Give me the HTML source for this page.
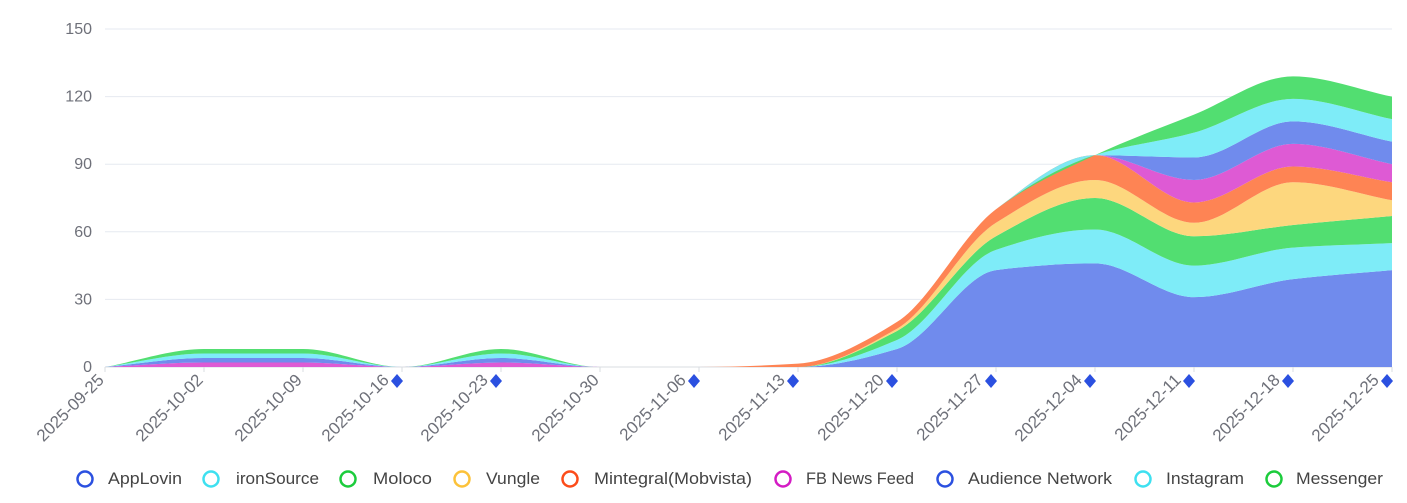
<!DOCTYPE html>
<html><head><meta charset="utf-8"><style>
body{margin:0;background:#fff;font-family:"Liberation Sans",sans-serif;}
svg text{font-family:"Liberation Sans",sans-serif;}
</style></head><body>
<svg id="c" width="1407" height="498" xmlns="http://www.w3.org/2000/svg"></svg>
<script>
const svg=document.getElementById('c');
const NS='http://www.w3.org/2000/svg';
function el(t,a,txt){const e=document.createElementNS(NS,t);for(const k in a)e.setAttribute(k,a[k]);if(txt!==undefined)e.textContent=txt;svg.appendChild(e);return e;}
const x0=105,dx=99,y0=367,k=338/150;
for(let v=0;v<=150;v+=30){const y=y0-v*k;el('line',{x1:105,x2:1392,y1:y,y2:y,stroke:v?'#e6eaf0':'#d8dce2','stroke-width':1});
el('text',{x:92,y:y+5,'text-anchor':'end','font-size':16,fill:'#6e7079'},String(v));}
const names=['AppLovin','ironSource','Moloco','Vungle','Mintegral(Mobvista)','FB News Feed','Audience Network','Instagram','Messenger'];
const fills=['#6b87ec','#7aebf8','#4cdd6c','#fdd67a','#fe804e','#dd55d3','#6b87ec','#7aebf8','#4cdd6c'];
const strokes=['#2b50e0','#3ee0f0','#1ccc3c','#fcc23a','#fc4c1a','#d41cc4','#2b50e0','#3ee0f0','#1ccc3c'];
const z=[0,0,0,0,0,0,0,0,0,0,0,0,0,0];
const data=[
[0,0,0,0,0,0,0,0,8,43,46,31,39,43],
[0,0,0,0,0,0,0,0,4,9,15,14,14,12],
[0,0,0,0,0,0,0,0,4,6,14,13,10,12],
[0,0,0,0,0,0,0,0,1,6,8,6,19,7],
[0,0,0,0,0,0,0,1.5,3,6,11,9,7,8],
[0,2,2,0,2,0,0,0,0,0,0,10,10,8],
[0,2,2,0,2,0,0,0,0,0,0,10,10,10],
[0,2,2,0,2,0,0,0,0,0,0,11,10,10],
[0,2,2,0,2,0,0,0,0,0,0,8,10,10]];
function mono(xs,ys){const n=xs.length,m=[],d=[];
for(let i=0;i<n-1;i++)d.push((ys[i+1]-ys[i])/(xs[i+1]-xs[i]));
for(let i=0;i<n;i++){if(i==0)m.push(d[0]);else if(i==n-1)m.push(d[n-2]);else{if(d[i-1]*d[i]<=0)m.push(0);else m.push(2/(1/d[i-1]+1/d[i]));}}
let p='';for(let i=0;i<n-1;i++){const h=xs[i+1]-xs[i];
p+=` C${xs[i]+h/3},${ys[i]+m[i]*h/3} ${xs[i+1]-h/3},${ys[i+1]-m[i+1]*h/3} ${xs[i+1]},${ys[i+1]}`;}return p;}
const xs=z.map((_,i)=>x0+i*dx);
let cum=z.slice();
for(let s=0;s<9;s++){const low=cum.slice();const high=cum.map((c,i)=>c+data[s][i]);cum=high;
const yl=low.map(v=>y0-v*k),yh=high.map(v=>y0-v*k);
let p=`M${xs[0]},${yh[0]}`+mono(xs,yh);
const rx=xs.slice().reverse(),ry=yl.slice().reverse();
p+=` L${rx[0]},${ry[0]}`+mono(rx.map(v=>-v),ry).replace(/C([^ ]+) ([^ ]+) ([^ ]+)/g,(a,b,c,d)=>{const f=s=>{const [x,y]=s.split(',');return (-x)+','+y};return 'C'+f(b)+' '+f(c)+' '+f(d);})+'Z';
el('path',{d:p,fill:fills[s],'fill-opacity':0.97,stroke:'none'});}
const labels=['2025-09-25','2025-10-02','2025-10-09','2025-10-16','2025-10-23','2025-10-30','2025-11-06','2025-11-13','2025-11-20','2025-11-27','2025-12-04','2025-12-11','2025-12-18','2025-12-25'];
const dia=[3,4,6,7,8,9,10,11,12,13];
labels.forEach((l,i)=>{const x=xs[i];
el('line',{x1:x,x2:x,y1:y0,y2:y0+5,stroke:'#d8dce2'});
const off=dia.includes(i)?-12:0;
el('text',{x:x+off,y:y0+14,'text-anchor':'end','font-size':17,fill:'#6e7079',transform:`rotate(-45 ${x+off} ${y0+14})`},l);
if(dia.includes(i)){const cx=x-5,cy=381;el('path',{d:`M${cx},${cy-7} L${cx+6},${cy} L${cx},${cy+7} L${cx-6},${cy}Z`,fill:'#2b50e0'});}
});
const lx=[85,211,348,462,570,783,945,1143,1274];
const tx=[108,236,373,486,594,806,968,1166,1296];
const tw=[74,83,59,54,158,108,144,78,87];
names.forEach((n,i)=>{el('circle',{cx:lx[i],cy:479,r:7.5,fill:'none',stroke:strokes[i],'stroke-width':2.5});
el('text',{x:tx[i],y:484,'font-size':17,fill:'#444',textLength:tw[i],lengthAdjust:'spacingAndGlyphs'},n);});
</script>
</body></html>
